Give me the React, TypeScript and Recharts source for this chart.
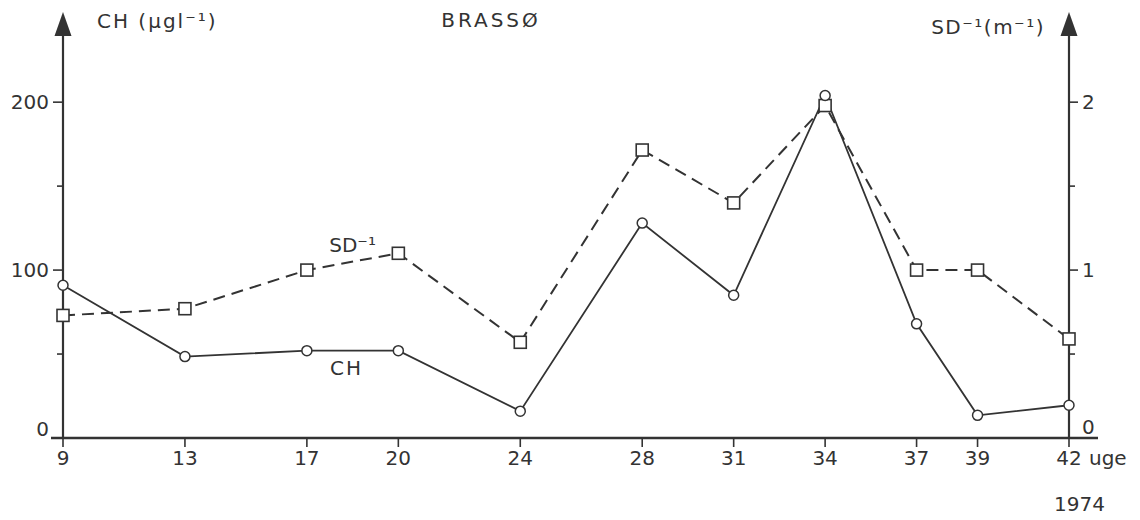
import React from "react"
import { LineChart, Line, XAxis, YAxis, ReferenceDot } from "recharts"

// week numbers (uge), 1974
const weeks = [9, 13, 17, 20, 24, 28, 31, 34, 37, 39, 42]
// chlorophyll, µg/l
const chValues = [91, 48.5, 52, 52, 16, 128, 85, 204, 68, 13.5, 19.5]
// inverse Secchi depth, 1/m
const sdValues = [0.73, 0.77, 1.0, 1.1, 0.57, 1.715, 1.4, 1.98, 1.0, 1.0, 0.59]

const chTicks = [0, 50, 100, 150, 200]
const sdTicks = [0, 0.5, 1, 1.5, 2]

const data = weeks.map((week, i) => ({ week, ch: chValues[i], sd: sdValues[i] }))

const INK = "#333"
const FONT = "'DejaVu Sans', sans-serif"
const FS = 20

const LeftTick = ({ x, y, payload }: any) => {
  const v = payload.value
  const major = v % 100 === 0
  return (
    <g>
      <line x1={x - (major ? 10 : 6)} x2={x} y1={y} y2={y} stroke={INK} strokeWidth={1.6} />
      {major && (
        <text x={x - 14} y={y + (v === 0 ? -9 : 0)} dy="0.35em" textAnchor="end" fill={INK} fontSize={FS} fontFamily={FONT}>
          {v}
        </text>
      )}
    </g>
  )
}

const RightTick = ({ x, y, payload }: any) => {
  const v = payload.value
  const major = Number.isInteger(v)
  return (
    <g>
      <line x1={x} x2={x + (major ? 9 : 6)} y1={y} y2={y} stroke={INK} strokeWidth={1.6} />
      {major && (
        <text x={x + 13} y={y + (v === 0 ? -11 : 0)} dy="0.35em" textAnchor="start" fill={INK} fontSize={FS} fontFamily={FONT}>
          {v}
        </text>
      )}
    </g>
  )
}

const WeekTick = ({ x, y, payload }: any) => {
  const v = payload.value
  const last = v === weeks[weeks.length - 1]
  return (
    <g>
      <line x1={x} x2={x} y1={y} y2={y + 9} stroke={INK} strokeWidth={1.6} />
      <text x={x} y={y + 27} textAnchor="middle" fill={INK} fontSize={FS} fontFamily={FONT}>
        {v}
      </text>
      {last && (
        <>
          <text x={x + 20} y={y + 27} textAnchor="start" fill={INK} fontSize={FS} fontFamily={FONT}>
            uge
          </text>
          <text x={x - 15} y={y + 73} textAnchor="start" fill={INK} fontSize={FS} fontFamily={FONT}>
            1974
          </text>
        </>
      )}
    </g>
  )
}

// arrow heads on the value axes, plus the axis titles
const arrowHead = (ax: number, top: number) => (
  <polygon points={`${ax - 8.5},${top + 1} ${ax + 8.5},${top + 1} ${ax},${top - 23}`} fill={INK} />
)

const LeftAxisDecor = ({ viewBox }: any) => {
  const ax = viewBox.x + viewBox.width
  const top = viewBox.y
  return (
    <g fontFamily={FONT} fill={INK}>
      {arrowHead(ax, top)}
      <text x={ax + 34} y={top - 7} fontSize={FS} letterSpacing={2}>
        CH (µgl⁻¹)
      </text>
      <text x={491} y={top - 8} fontSize={FS} letterSpacing={3} textAnchor="middle">
        BRASSØ
      </text>
    </g>
  )
}

const RightAxisDecor = ({ viewBox }: any) => {
  const ax = viewBox.x
  const top = viewBox.y
  return (
    <g fontFamily={FONT} fill={INK}>
      {arrowHead(ax, top)}
      <text x={ax - 24} y={top - 1} fontSize={FS} letterSpacing={1.5} textAnchor="end">
        SD⁻¹(m⁻¹)
      </text>
    </g>
  )
}

const BaseLine = ({ viewBox }: any) => (
  <line x1={viewBox.x - 12} x2={viewBox.x + viewBox.width + 29} y1={viewBox.y} y2={viewBox.y} stroke={INK} strokeWidth={2.6} />
)

const SquareDot = (p: any) => (
  <rect key={`sq-${p.index}`} x={p.cx - 6} y={p.cy - 6} width={12} height={12} fill="#fff" stroke={INK} strokeWidth={1.6} />
)

export default function App() {
  return (
    <div style={{ position: "absolute", left: 0, top: 0, background: "#fff" }}>
      <LineChart width={1140} height={520} data={data} margin={{ top: 35, right: 0, bottom: 0, left: 0 }}>
        <XAxis
          dataKey="week"
          type="number"
          domain={[9, 42]}
          ticks={weeks}
          interval={0}
          height={82}
          axisLine={false}
          tickLine={false}
          tickSize={0}
          tickMargin={0}
          tick={<WeekTick />}
          label={{ content: <BaseLine /> }}
        />
        <YAxis
          yAxisId="ch"
          orientation="left"
          width={63}
          domain={[0, 240]}
          ticks={chTicks}
          interval={0}
          axisLine={{ stroke: INK, strokeWidth: 2.2 }}
          tickLine={false}
          tickSize={0}
          tickMargin={0}
          tick={<LeftTick />}
          label={{ content: <LeftAxisDecor /> }}
        />
        <YAxis
          yAxisId="sd"
          orientation="right"
          width={71}
          domain={[0, 2.4]}
          ticks={sdTicks}
          interval={0}
          axisLine={{ stroke: INK, strokeWidth: 2.2 }}
          tickLine={false}
          tickSize={0}
          tickMargin={0}
          tick={<RightTick />}
          label={{ content: <RightAxisDecor /> }}
        />
        <Line
          yAxisId="sd"
          dataKey="sd"
          type="linear"
          stroke={INK}
          strokeWidth={2}
          strokeDasharray="12 7"
          dot={SquareDot}
          isAnimationActive={false}
        />
        <Line
          yAxisId="ch"
          dataKey="ch"
          type="linear"
          stroke={INK}
          strokeWidth={1.8}
          dot={{ r: 5, fill: "#fff", stroke: INK, strokeWidth: 1.5 }}
          isAnimationActive={false}
        />
        <ReferenceDot
          yAxisId="ch"
          x={18.5}
          y={115}
          r={0}
          fill="none"
          stroke="none"
          label={{ value: "SD⁻¹", position: "center", fill: INK, fontSize: FS, fontFamily: FONT }}
        />
        <ReferenceDot
          yAxisId="ch"
          x={18.3}
          y={42}
          r={0}
          fill="none"
          stroke="none"
          label={{ value: "CH", position: "center", fill: INK, fontSize: FS, fontFamily: FONT, letterSpacing: 2 }}
        />
      </LineChart>
    </div>
  )
}
